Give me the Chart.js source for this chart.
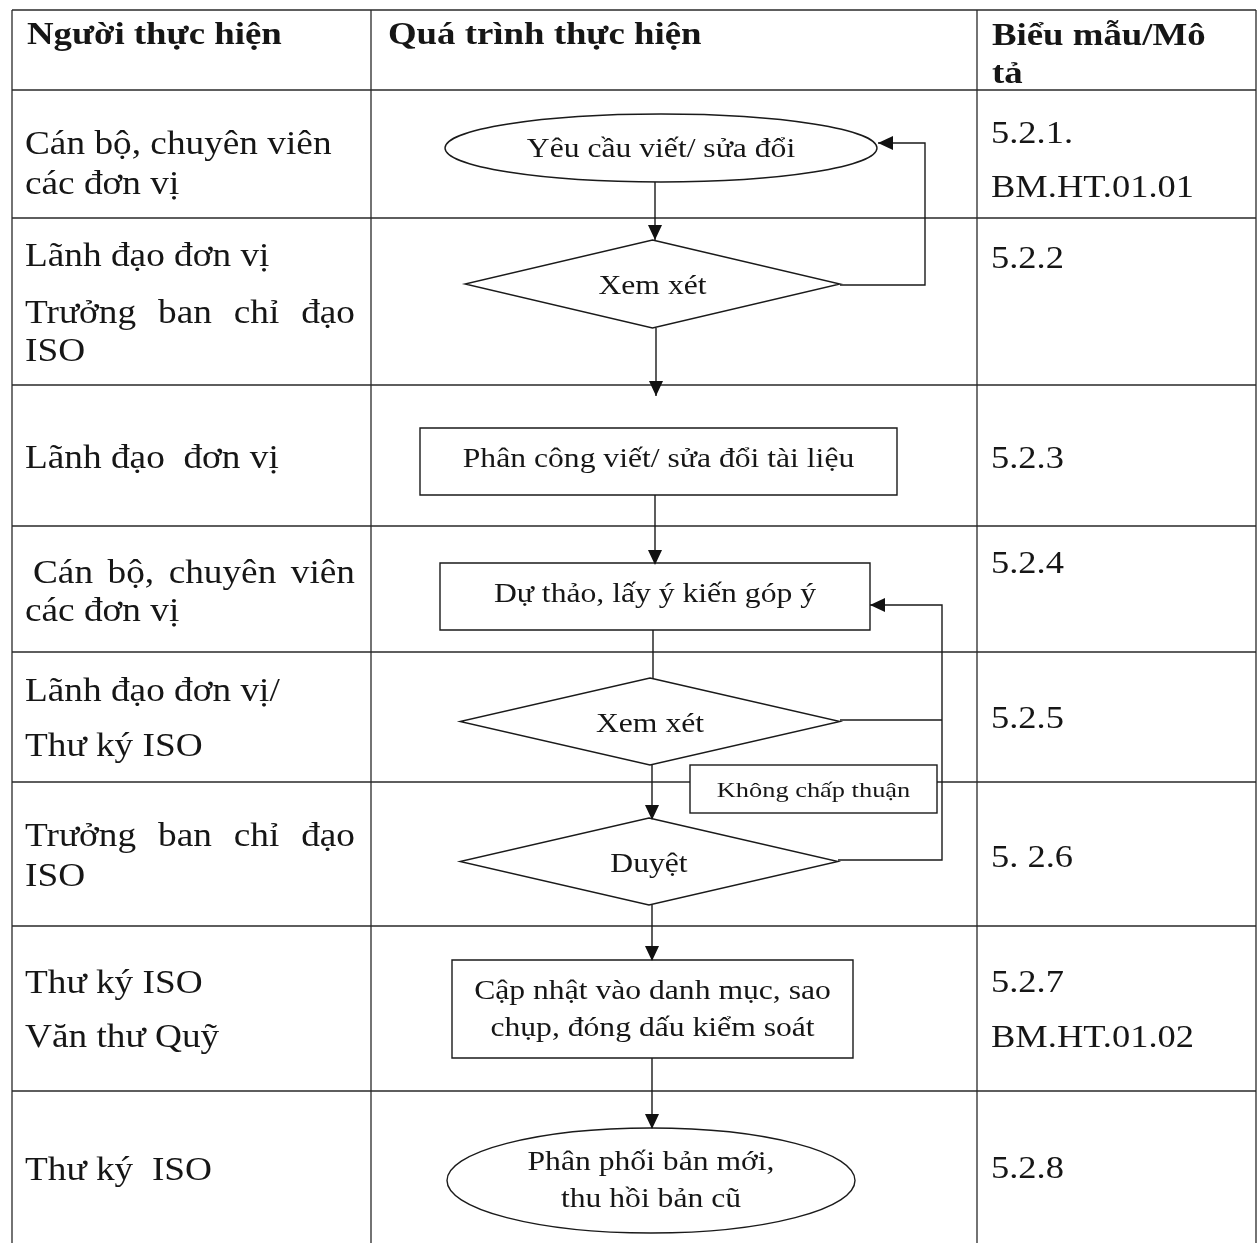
<!DOCTYPE html>
<html>
<head>
<meta charset="utf-8">
<script src="https://cdn.jsdelivr.net/npm/chart.js@4"></script>
<style>
  html, body { margin: 0; padding: 0; background: #fff; }
  #wrap { width: 1257px; height: 1243px; }
</style>
</head>
<body>
<div id="wrap"><canvas id="flowCanvas" width="1257" height="1243"></canvas></div>
<script>
// ---- content (text) ----
const headers = [['Người thực hiện'], ['Quá trình thực hiện'], ['Biểu mẫu/Mô', 'tả']];
const performers = [
    ['Cán bộ, chuyên viên', 'các đơn vị'],
    ['Lãnh đạo đơn vị', 'Trưởng ban chỉ đạo', 'ISO'],
    ['Lãnh đạo  đơn vị'],
    ['Cán bộ, chuyên viên', 'các đơn vị'],
    ['Lãnh đạo đơn vị/', 'Thư ký ISO'],
    ['Trưởng ban chỉ đạo', 'ISO'],
    ['Thư ký ISO', 'Văn thư Quỹ'],
    ['Thư ký  ISO']
];
const formCodes = [
    ['5.2.1.', 'BM.HT.01.01'],
    ['5.2.2'],
    ['5.2.3'],
    ['5.2.4'],
    ['5.2.5'],
    ['5. 2.6'],
    ['5.2.7', 'BM.HT.01.02'],
    ['5.2.8']
];
const steps = [
    ['Yêu cầu viết/ sửa đổi'],
    ['Xem xét'],
    ['Phân công viết/ sửa đổi tài liệu'],
    ['Dự thảo, lấy ý kiến góp ý'],
    ['Xem xét'],
    ['Duyệt'],
    ['Cập nhật vào danh mục, sao', 'chụp, đóng dấu kiểm soát'],
    ['Phân phối bản mới,', 'thu hồi bản cũ']
];
const stepShapes = ['ellipse', 'diamond', 'rect', 'rect', 'diamond', 'diamond', 'rect', 'ellipse'];
const rejectLabel = 'Không chấp thuận';

// ---- layout (page units, y grows downward) ----
const pageW = 1257, pageH = 1243;
const colEdges = [12, 371, 977, 1256];
const rowEdges = [10, 90, 218, 385, 526, 652, 782, 926, 1091];
const headerX = [27, 388, 992];
const headerY = [[44], [44], [45, 83]];
const perfX = 25;
const perfY = [[154, 194], [266, 323, 361], [468], [583, 621], [701, 756], [846, 886], [993, 1047], [1180]];
const perfJustify = [[0, 0], [0, 1, 0], [0], [1, 0], [0, 0], [1, 0], [0, 0], [0]];
const perfRight = 355;
const formX = 991;
const formY = [[143, 197], [268], [468], [573], [728], [867], [992, 1047], [1178]];
// shape boxes: [left, top, right, bottom]
const stepBoxes = [
    [445, 114, 877, 182],
    [465, 240, 840, 328],
    [420, 428, 897, 495],
    [440, 563, 870, 630],
    [460, 678, 840, 765],
    [460, 818, 838, 905],
    [452, 960, 853, 1058],
    [447, 1128, 855, 1233]
];
const stepTextDy = [9, 10, 5, 5, 10, 10, 8, 8];
const rejectBox = [690, 765, 937, 813];
const connectors = [
    [[655, 182], [655, 240]],
    [[840, 285], [925, 285], [925, 143], [878, 143]],
    [[656, 328], [656, 396]],
    [[655, 495], [655, 565]],
    [[653, 630], [653, 678]],
    [[840, 720], [942, 720]],
    [[838, 860], [942, 860], [942, 605], [870, 605]],
    [[652, 765], [652, 820]],
    [[652, 905], [652, 961]],
    [[652, 1058], [652, 1129]]
];
const connectorArrow = [true, true, true, true, false, false, true, true, true, true];

const serif = '"Liberation Serif", "DejaVu Serif", serif';
const ink = '#161616';

function drawText(ctx, str, x, y, font, sx, align) {
    ctx.save();
    ctx.font = font;
    ctx.fillStyle = ink;
    ctx.textBaseline = 'alphabetic';
    const w = ctx.measureText(str).width * sx;
    let x0 = x;
    if (align === 'center') x0 = x - w / 2;
    ctx.translate(x0, y);
    ctx.scale(sx, 1);
    ctx.textAlign = 'left';
    ctx.fillText(str, 0, 0);
    ctx.restore();
}

function drawJustified(ctx, str, x, right, y, font, sx) {
    ctx.save();
    ctx.font = font;
    const words = str.split(/\s+/);
    const widths = words.map(w => ctx.measureText(w).width * sx);
    const total = widths.reduce((a, b) => a + b, 0);
    const gap = (right - x - total) / (words.length - 1);
    let cx = x;
    ctx.restore();
    words.forEach((w, i) => {
        drawText(ctx, w, cx, y, font, sx, 'left');
        cx += widths[i] + gap;
    });
}

const flowPlugin = {
    id: 'flowPlugin',
    beforeDatasetsDraw(chart) {
        const ctx = chart.ctx;
        const px = v => chart.scales.x.getPixelForValue(v);
        const py = v => chart.scales.y.getPixelForValue(v);
        ctx.save();
        ctx.fillStyle = '#fff';
        ctx.fillRect(0, 0, chart.width, chart.height);
        // table grid
        ctx.strokeStyle = '#2a2a2a';
        ctx.lineWidth = 1.3;
        ctx.beginPath();
        rowEdges.forEach(r => {
            ctx.moveTo(px(colEdges[0]), py(r));
            ctx.lineTo(px(colEdges[colEdges.length - 1]), py(r));
        });
        colEdges.forEach(c => {
            ctx.moveTo(px(c), py(rowEdges[0]));
            ctx.lineTo(px(c), py(pageH));
        });
        ctx.stroke();

        // header text
        const hFont = 'bold 32px ' + serif;
        headers.forEach((lines, i) => {
            lines.forEach((t, j) => drawText(ctx, t, px(headerX[i]), py(headerY[i][j]), hFont, 1.15, 'left'));
        });

        // performer column
        const pFont = '33px ' + serif;
        performers.forEach((lines, i) => {
            lines.forEach((t, j) => {
                const x0 = (i === 3 && j === 0) ? perfX + 8 : perfX;
                if (perfJustify[i][j]) {
                    drawJustified(ctx, t, px(x0), px(perfRight), py(perfY[i][j]), pFont, 1.13);
                } else {
                    drawText(ctx, t, px(x0), py(perfY[i][j]), pFont, 1.13, 'left');
                }
            });
        });

        // form code column
        const fFont = '32px ' + serif;
        formCodes.forEach((lines, i) => {
            lines.forEach((t, j) => drawText(ctx, t, px(formX), py(formY[i][j]), fFont, 1.14, 'left'));
        });
        ctx.restore();
    },
    afterDatasetsDraw(chart) {
        const ctx = chart.ctx;
        const px = v => chart.scales.x.getPixelForValue(v);
        const py = v => chart.scales.y.getPixelForValue(v);
        ctx.save();
        ctx.strokeStyle = '#1a1a1a';
        ctx.lineWidth = 1.4;

        // shapes
        stepBoxes.forEach((b, i) => {
            const l = px(b[0]), t = py(b[1]), r = px(b[2]), btm = py(b[3]);
            const cx = (l + r) / 2, cy = (t + btm) / 2;
            ctx.beginPath();
            if (stepShapes[i] === 'ellipse') {
                ctx.ellipse(cx, cy, (r - l) / 2, (btm - t) / 2, 0, 0, Math.PI * 2);
            } else if (stepShapes[i] === 'diamond') {
                ctx.moveTo(cx, t);
                ctx.lineTo(r, cy);
                ctx.lineTo(cx, btm);
                ctx.lineTo(l, cy);
                ctx.closePath();
            } else {
                ctx.rect(l, t, r - l, btm - t);
            }
            ctx.fillStyle = '#fff';
            ctx.fill();
            ctx.stroke();

            const lines = steps[i];
            const lh = 37;
            const sFont = '28px ' + serif;
            const firstBase = cy + stepTextDy[i] - (lines.length - 1) * lh / 2;
            lines.forEach((t2, j) => drawText(ctx, t2, cx, firstBase + j * lh, sFont, 1.13, 'center'));
        });

        // reject label box
        const rl = px(rejectBox[0]), rt = py(rejectBox[1]), rr = px(rejectBox[2]), rb = py(rejectBox[3]);
        ctx.fillStyle = '#fff';
        ctx.fillRect(rl, rt, rr - rl, rb - rt);
        ctx.strokeRect(rl, rt, rr - rl, rb - rt);
        drawText(ctx, rejectLabel, (rl + rr) / 2, (rt + rb) / 2 + 8, '22px ' + serif, 1.2, 'center');

        // arrow heads
        ctx.fillStyle = '#111';
        connectors.forEach((pts, i) => {
            if (!connectorArrow[i]) return;
            const a = pts[pts.length - 2], b = pts[pts.length - 1];
            const x1 = px(a[0]), y1 = py(a[1]), x2 = px(b[0]), y2 = py(b[1]);
            const ang = Math.atan2(y2 - y1, x2 - x1);
            const len = 15, half = 7;
            ctx.beginPath();
            ctx.moveTo(x2, y2);
            ctx.lineTo(x2 - len * Math.cos(ang) + half * Math.sin(ang), y2 - len * Math.sin(ang) - half * Math.cos(ang));
            ctx.lineTo(x2 - len * Math.cos(ang) - half * Math.sin(ang), y2 - len * Math.sin(ang) + half * Math.cos(ang));
            ctx.closePath();
            ctx.fill();
        });
        ctx.restore();
    }
};

const ctx = document.getElementById('flowCanvas').getContext('2d');
window.flowChart = new Chart(ctx, {
    type: 'scatter',
    data: {
        datasets: connectors.map(pts => ({
            data: pts.map(p => ({ x: p[0], y: p[1] })),
            showLine: true,
            borderColor: '#1a1a1a',
            borderWidth: 1.4,
            pointRadius: 0,
            tension: 0,
            fill: false
        }))
    },
    options: {
        responsive: false,
        animation: false,
        devicePixelRatio: 1,
        layout: { padding: 0 },
        plugins: { legend: { display: false }, tooltip: { enabled: false } },
        scales: {
            x: { type: 'linear', min: 0, max: pageW, display: false },
            y: { type: 'linear', min: 0, max: pageH, reverse: true, display: false }
        }
    },
    plugins: [flowPlugin]
});
</script>
</body>
</html>
